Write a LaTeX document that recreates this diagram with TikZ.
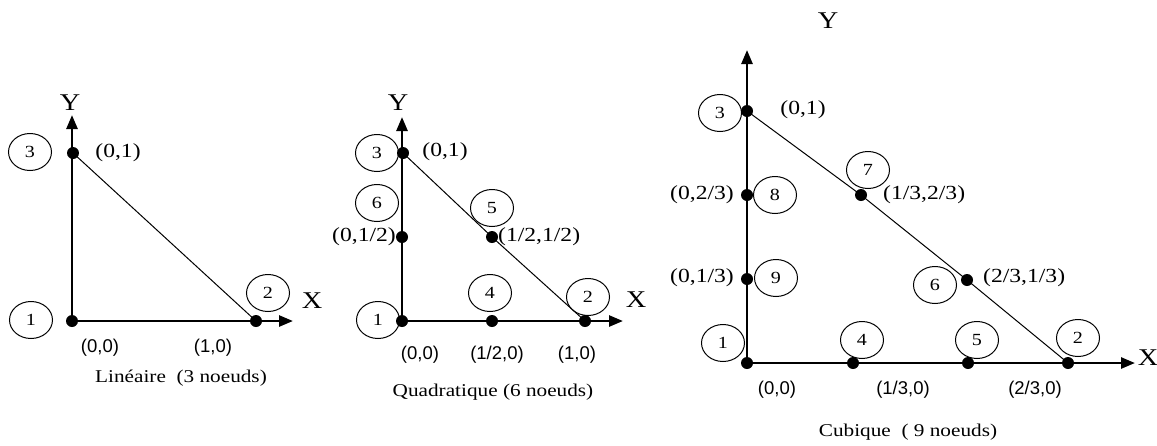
\documentclass[tikz,border=0pt]{standalone}
\usepackage{fontspec}
\setmainfont[FakeStretch=1.18]{Liberation Serif}
\newfontfamily\labelsans{Liberation Sans}
\usepackage{tikz}
\usetikzlibrary{arrows.meta,positioning,shapes.geometric}
\tikzset{
  dot/.style={circle,fill=black,inner sep=0pt,minimum size=12pt},
  num/.style={ellipse,draw=black,line width=1pt,minimum width=43pt,
    minimum height=37pt,inner sep=0pt,font=\fontsize{17}{19}\selectfont},
  coord/.style={inner sep=1pt,font=\fontsize{20}{22}\selectfont},
  base/.style={inner sep=1pt,font=\labelsans\fontsize{18.5}{21}\selectfont},
  axislabel/.style={inner sep=0pt,font=\fontsize{24}{26}\selectfont},
  caption/.style={inner sep=0pt,font=\fontsize{18}{20}\selectfont},
  axis/.style={line width=2.6pt,-{Triangle[length=14pt,width=11pt]}},
  side/.style={line width=1pt}
}
\begin{document}
\begin{tikzpicture}[x=1pt,y=-1pt]
\useasboundingbox (0,0) rectangle (1157,445);
% Lineaire
\node[dot] (l1) at (72,321) {};
\node[dot] (l2) at (256,321) {};
\node[dot] (l3) at (73,153) {};
\coordinate (lx) at (293,321);
\coordinate (ly) at (72,115);
\draw[axis] (l1.center) -- (lx);
\draw[axis] (l1.center) -- (ly);
\draw[side] (l3.center) -- (l2.center);
\node[num] (cl1) at (31,320) {1};
\node[num] (cl2) at (268,293) {2};
\node[num] (cl3) at (30,152) {3};
\node[axislabel] (tly) at (70,103) {Y};
\node[axislabel] (tlx) at (312,301) {X};
\node[coord] (pl3) at (118,153) {(0,1)};
\node[base] (pl1) at (100,348) {(0,0)};
\node[base] (pl2) at (213,348) {(1,0)};
\node[caption] (capl) at (181,378) {Linéaire\ \ (3 noeuds)};
% Quadratique
\node[dot] (q1) at (402,321) {};
\node[dot] (q2) at (585,321) {};
\node[dot] (q3) at (403,153) {};
\node[dot] (q4) at (492,321) {};
\node[dot] (q5) at (492,237) {};
\node[dot] (q6) at (402,237) {};
\coordinate (qx) at (623,321);
\coordinate (qy) at (402,117);
\draw[axis] (q1.center) -- (qx);
\draw[axis] (q1.center) -- (qy);
\draw[side] (q3.center) -- (q5.center) -- (q2.center);
\node[num] (cq1) at (378,320) {1};
\node[num] (cq2) at (588,297) {2};
\node[num] (cq3) at (377,153) {3};
\node[num] (cq4) at (490,293) {4};
\node[num] (cq5) at (492,208) {5};
\node[num] (cq6) at (377,203) {6};
\node[axislabel] (tqy) at (398,103) {Y};
\node[axislabel] (tqx) at (636,300) {X};
\node[coord] (pq3) at (445,152) {(0,1)};
\node[coord,anchor=east] (pq6) at (397,237) {(0,1/2)};
\node[coord,anchor=west] (pq5) at (497,237) {(1/2,1/2)};
\node[base] (pq1) at (420,355) {(0,0)};
\node[base] (pq4) at (497,355) {(1/2,0)};
\node[base] (pq2) at (577,355) {(1,0)};
\node[caption] (capq) at (493,392) {Quadratique (6 noeuds)};
% Cubique
\node[dot] (k1) at (747,363) {};
\node[dot] (k2) at (1068,363) {};
\node[dot] (k3) at (747,111) {};
\node[dot] (k4) at (853,363) {};
\node[dot] (k5) at (968,363) {};
\node[dot] (k6) at (967,280) {};
\node[dot] (k7) at (861,195) {};
\node[dot] (k8) at (747,195) {};
\node[dot] (k9) at (747,279) {};
\coordinate (kx) at (1135,363);
\coordinate (ky) at (747,50);
\draw[axis] (k1.center) -- (kx);
\draw[axis] (k1.center) -- (ky);
\draw[side] (k3.center) -- (k7.center) -- (k6.center) -- (k2.center);
\node[num] (ck1) at (723,343) {1};
\node[num] (ck2) at (1078,338) {2};
\node[num] (ck3) at (720,113) {3};
\node[num] (ck4) at (862,340) {4};
\node[num] (ck5) at (977,340) {5};
\node[num] (ck6) at (935,285) {6};
\node[num] (ck7) at (868,170) {7};
\node[num] (ck8) at (775,195) {8};
\node[num] (ck9) at (776,278) {9};
\node[axislabel] (tky) at (828,21) {Y};
\node[axislabel] (tkx) at (1148,358) {X};
\node[coord] (pk3) at (803,110) {(0,1)};
\node[coord,anchor=east] (pk8) at (735,195) {(0,2/3)};
\node[coord,anchor=east] (pk9) at (735,278) {(0,1/3)};
\node[coord,anchor=west] (pk7) at (882,195) {(1/3,2/3)};
\node[coord,anchor=west] (pk6) at (982,278) {(2/3,1/3)};
\node[base] (pk1) at (777,390) {(0,0)};
\node[base] (pk4) at (903,390) {(1/3,0)};
\node[base] (pk5) at (1035,390) {(2/3,0)};
\node[caption] (capk) at (908,432) {Cubique\ \ (\ 9 noeuds)};
\end{tikzpicture}
\end{document}
